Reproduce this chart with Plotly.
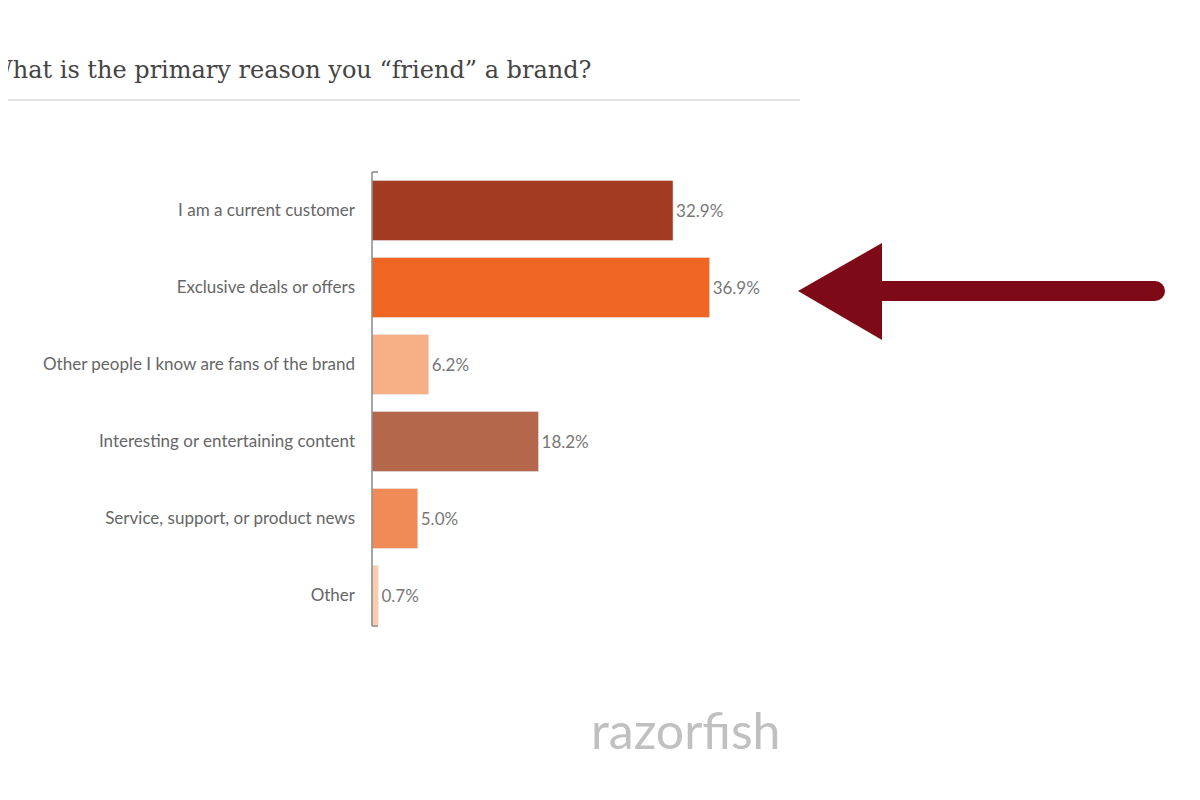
import plotly.graph_objects as go

categories = ["I am a current customer", "Exclusive deals or offers",
              "Other people I know are fans of the brand", "Interesting or entertaining content",
              "Service, support, or product news", "Other"]
values = [32.9, 36.9, 6.2, 18.2, 5.0, 0.7]
labels = ["32.9%", "36.9%", "6.2%", "18.2%", "5.0%", "0.7%"]
colors = ["#a33a22", "#ef6622", "#f7b085", "#b5674b", "#f08b57", "#f9cdb0"]

W, H = 1200, 800
OFF = 8  # page body margin
def px(x): return (x - OFF) / W
def py(y): return 1 - (y - OFF) / H

fig = go.Figure(go.Bar(
    y=categories, x=values, orientation="h", marker_color=colors,
    text=labels, textposition="outside", cliponaxis=False,
    textfont=dict(family="Lato", size=17, color="#777777"), width=0.78))

fig.update_layout(
    width=W, height=H, margin=dict(l=0, r=0, t=0, b=0),
    plot_bgcolor="white", paper_bgcolor="white", showlegend=False,
    xaxis=dict(range=[0, 60], domain=[px(372), px(372 + 60 * 9.15)], visible=False),
    yaxis=dict(domain=[py(634), py(172)], autorange="reversed", showgrid=False,
               ticks="", ticklabelstandoff=16,
               tickfont=dict(family="Lato", size=17, color="#666666")),
)

shapes = [
    dict(type="line", xref="paper", yref="paper", x0=px(372), x1=px(372), y0=py(172), y1=py(626),
         line=dict(color="#888888", width=1.5)),
    dict(type="line", xref="paper", yref="paper", x0=px(372), x1=px(378), y0=py(172), y1=py(172),
         line=dict(color="#888888", width=1.5)),
    dict(type="line", xref="paper", yref="paper", x0=px(372), x1=px(378), y0=py(626), y1=py(626),
         line=dict(color="#888888", width=1.5)),
    dict(type="line", xref="paper", yref="paper", x0=px(0), x1=px(800), y0=py(100), y1=py(100),
         line=dict(color="#d8d8d8", width=1.5)),
    dict(type="line", xref="paper", yref="paper", x0=px(870), x1=px(1155), y0=py(291), y1=py(291),
         line=dict(color="#7d0a16", width=20)),
    dict(type="circle", xref="paper", yref="paper", x0=px(1145), x1=px(1165), y0=py(301), y1=py(281),
         fillcolor="#7d0a16", line=dict(width=0)),
    dict(type="path", xref="paper", yref="paper",
         path=f"M {px(798)},{py(291)} L {px(882)},{py(243)} L {px(882)},{py(340)} Z",
         fillcolor="#7d0a16", line=dict(width=0)),
]
fig.update_layout(shapes=shapes)

fig.add_annotation(xref="paper", yref="paper", x=px(-14), y=py(70), xanchor="left", yanchor="middle",
                   text="What is the primary reason you \u201cfriend\u201d a brand?", showarrow=False,
                   font=dict(family="DejaVu Serif", size=24, color="#444444"))
fig.add_annotation(xref="paper", yref="paper", x=px(686), y=py(730), xanchor="center", yanchor="middle",
                   text="razorfish", showarrow=False,
                   font=dict(family="Lato", size=50, color="#c0c0c0"))

fig.write_html("out.html")
